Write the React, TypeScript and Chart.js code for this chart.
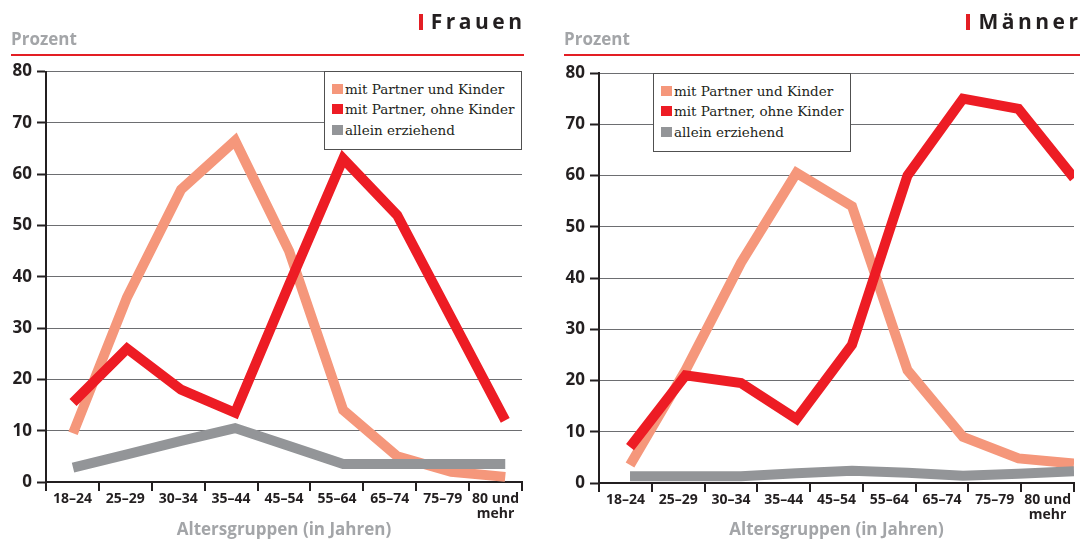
import React, { useEffect, useRef } from 'react';
import { Chart, registerables } from 'chart.js';

Chart.register(...registerables);

// ---------- data ----------
const categories: (string | string[])[] = [
  '18–24', '25–29', '30–34', '35–44', '45–54', '55–64', '65–74', '75–79', ['80 und', 'mehr'],
];
const seriesNames = ['mit Partner und Kinder', 'mit Partner, ohne Kinder', 'allein erziehend'];
const seriesColors = ['#F5977B', '#ED1C24', '#939598'];

const frauenMitPartnerUndKinder = [9.5, 36, 57, 66.5, 45, 14, 5, 2, 1];
const frauenMitPartnerOhneKinder = [15.5, 26, 18, 13.5, 38.5, 63, 52, 32, 12];
const frauenAlleinErziehend = [2.8, 5.4, 8, 10.5, 7, 3.5, 3.5, 3.5, 3.5];

const maennerMitPartnerUndKinder = [3.5, 22, 43, 60.5, 54, 22, 9, 4.8, 3.8];
const maennerMitPartnerOhneKinder = [7, 21, 19.5, 12.5, 27, 60, 75, 73, 59.5];
const maennerAlleinErziehend = [1.3, 1.3, 1.3, 1.9, 2.4, 2.0, 1.4, 1.8, 2.3];

const yMin = 0;
const yMax = 80;
const yStep = 10;

const panelTitles = ['Frauen', 'Männer'];
const yAxisLabel = 'Prozent';
const xAxisLabel = 'Altersgruppen (in Jahren)';

// ---------- layout ----------
const W = 540;
const H = 540;
const Y_AXIS_W = 36;

type Geom = {
  canvasLeft: number;
  areaLeft: number;
  areaRight: number;
  areaTop: number;
  areaBottom: number;
  xMin: number;
  xMax: number;
  textLeft: number;
  ruleRight: number;
  titleRight: number;
  legendLeft: number;
  legendTop: number;
};

const geoms: Geom[] = [
  {
    canvasLeft: 0, areaLeft: 46, areaRight: 522, areaTop: 71.5, areaBottom: 482,
    xMin: -0.5, xMax: 8.31, textLeft: 11, ruleRight: 524, titleRight: 522,
    legendLeft: 324, legendTop: 71,
  },
  {
    canvasLeft: 540, areaLeft: 599, areaRight: 1074, areaTop: 73, areaBottom: 483,
    xMin: -0.559, xMax: 8.0, textLeft: 564, ruleRight: 1080, titleRight: 1078,
    legendLeft: 653, legendTop: 73,
  },
];

const INK = '#231f20';
const GREY_TEXT = '#a3a5a8';
const RULE_RED = '#e31e24';

function Panel({ title, series, g }: { title: string; series: number[][]; g: Geom }) {
  const ref = useRef<HTMLCanvasElement>(null);

  useEffect(() => {
    const order = [2, 1, 0];
    const chart = new Chart(ref.current as HTMLCanvasElement, {
      type: 'line',
      data: {
        labels: categories as any,
        datasets: series.map((vals, i) => ({
          label: seriesNames[i],
          data: vals.map((v, j) => ({ x: j, y: v })),
          borderColor: seriesColors[i],
          backgroundColor: seriesColors[i],
          borderWidth: 10,
          pointRadius: 0,
          pointHoverRadius: 0,
          tension: 0,
          fill: false,
          borderJoinStyle: 'miter',
          borderCapStyle: 'butt',
          xAxisID: 'xl',
          yAxisID: 'y',
          order: order[i],
        })) as any,
      },
      options: {
        responsive: false,
        animation: false,
        events: [],
        layout: {
          padding: {
            left: g.areaLeft - g.canvasLeft - Y_AXIS_W,
            right: g.canvasLeft + W - g.areaRight,
            top: g.areaTop,
            bottom: 0,
          },
        },
        plugins: { legend: { display: false }, tooltip: { enabled: false } },
        scales: {
          x: {
            type: 'category',
            position: 'bottom',
            offset: true,
            grid: {
              offset: true,
              drawOnChartArea: false,
              drawTicks: true,
              tickLength: 9,
              color: INK,
              lineWidth: 2,
            },
            border: { display: true, color: INK, width: 2 },
            ticks: {
              autoSkip: false,
              maxRotation: 0,
              minRotation: 0,
              color: INK,
              padding: 0,
              font: { family: 'Open Sans', weight: 'bold', size: 14, lineHeight: 1.1 },
            },
            title: {
              display: true,
              text: xAxisLabel,
              color: GREY_TEXT,
              padding: 0,
              font: { family: 'Open Sans', weight: 'bold', size: 17, lineHeight: 1.2 },
            },
            afterFit: (s: any) => {
              s.height = H - g.areaBottom;
            },
          } as any,
          xl: {
            type: 'linear',
            display: false,
            min: g.xMin,
            max: g.xMax,
          },
          y: {
            type: 'linear',
            position: 'left',
            min: yMin,
            max: yMax,
            ticks: {
              stepSize: yStep,
              color: INK,
              padding: 5,
              font: { family: 'Open Sans', weight: 'bold', size: 17 },
            },
            grid: {
              color: '#6d6e71',
              lineWidth: 1,
              drawTicks: true,
              tickLength: 9,
              tickColor: INK,
              tickWidth: 2,
            },
            border: { display: true, color: INK, width: 2 },
            afterFit: (s: any) => {
              s.width = Y_AXIS_W;
            },
          } as any,
        },
      },
    });
    return () => chart.destroy();
  }, []);

  return (
    <>
      <canvas
        ref={ref}
        width={W}
        height={H}
        style={{ position: 'absolute', left: g.canvasLeft, top: 0, width: W, height: H }}
      />
      {/* y unit label */}
      <div
        style={{
          position: 'absolute', left: g.textLeft, top: 29.5, fontFamily: 'Open Sans',
          fontWeight: 700, fontSize: 17, lineHeight: '17px', color: GREY_TEXT, whiteSpace: 'nowrap',
        }}
      >
        {yAxisLabel}
      </div>
      {/* red rule */}
      <div
        style={{
          position: 'absolute', left: g.textLeft, top: 53.5, width: g.ruleRight - g.textLeft,
          height: 2, background: RULE_RED,
        }}
      />
      {/* panel title */}
      <div
        style={{
          position: 'absolute', right: 1080 - g.titleRight - 3.5, top: 11, display: 'flex',
          alignItems: 'flex-start', whiteSpace: 'nowrap',
        }}
      >
        <div style={{ width: 4, height: 15.5, background: RULE_RED, marginTop: 3, marginRight: 8 }} />
        <span
          style={{
            fontFamily: 'Open Sans', fontWeight: 700, fontSize: 21, lineHeight: '21px',
            letterSpacing: 3.5, color: INK,
          }}
        >
          {title}
        </span>
      </div>
      {/* legend */}
      <div
        style={{
          position: 'absolute', left: g.legendLeft, top: g.legendTop, width: 198, height: 78.5,
          boxSizing: 'border-box', border: '1.5px solid #505050', background: '#fff',
          paddingTop: 7, paddingLeft: 7,
        }}
      >
        {seriesNames.map((n, i) => (
          <div key={n} style={{ display: 'flex', alignItems: 'center', height: 20.3 }}>
            <div style={{ width: 11, height: 10, background: seriesColors[i], marginRight: 2 }} />
            <span
              style={{
                fontFamily: 'DejaVu Serif', fontSize: 13.5, lineHeight: '20px', color: INK,
                whiteSpace: 'nowrap',
              }}
            >
              {n}
            </span>
          </div>
        ))}
      </div>
    </>
  );
}

export default function App() {
  return (
    <div
      style={{
        position: 'absolute', left: 0, top: 0, width: 1080, height: 540, background: '#fff',
        overflow: 'hidden',
      }}
    >
      <Panel
        title={panelTitles[0]}
        series={[frauenMitPartnerUndKinder, frauenMitPartnerOhneKinder, frauenAlleinErziehend]}
        g={geoms[0]}
      />
      <Panel
        title={panelTitles[1]}
        series={[maennerMitPartnerUndKinder, maennerMitPartnerOhneKinder, maennerAlleinErziehend]}
        g={geoms[1]}
      />
    </div>
  );
}
